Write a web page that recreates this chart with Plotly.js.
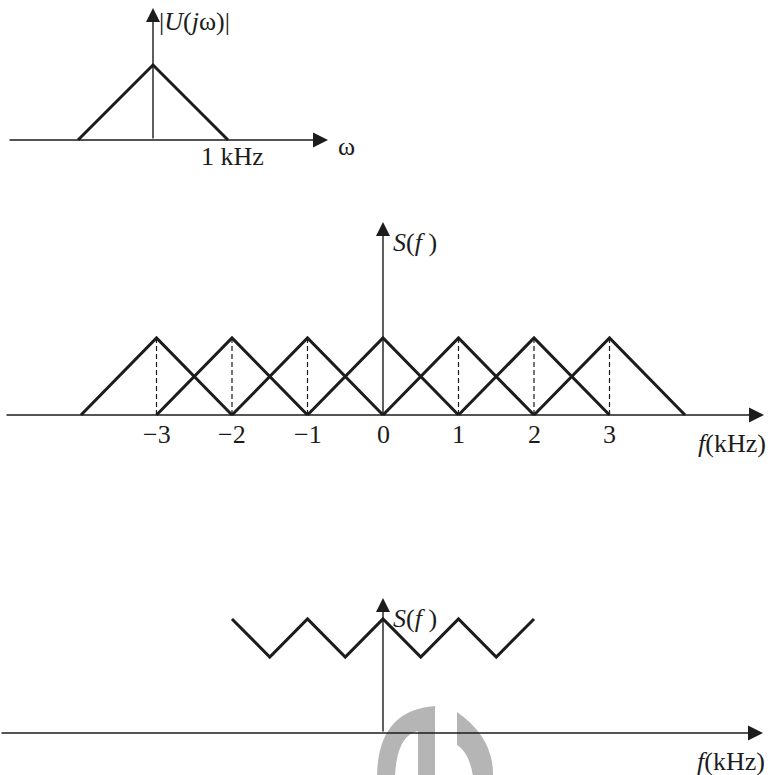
<!DOCTYPE html>
<html>
<head>
<meta charset="utf-8">
<script src="https://cdn.plot.ly/plotly-3.0.1.min.js"></script>
<style>html,body{margin:0;padding:0;background:#fff;}#chart{width:770px;height:775px;}</style>
</head>
<body>
<div id="chart"></div>
<script>
// ---- data ----
const topF = [-1, 0, 1];            // |U(jω)| triangle, kHz
const topU = [0, 1, 0];
const centers = [-3, -2, -1, 0, 1, 2, 3];   // sample spectrum replicas (kHz)
const tickLabels = ['\u22123', '\u22122', '\u22121', '0', '1', '2', '3'];
const triF = [-1, 0, 1];            // replica shape, offset from centre
const triS = [0, 1, 0];
const sumF = [-2, -1.5, -1, -0.5, 0, 0.5, 1, 1.5, 2];   // bottom panel
const sumS = [1.5, 1, 1.5, 1, 1.5, 1, 1.5, 1, 1.5];

// ---- style ----
const INK = '#1c1c1c';
const FONT = {family: 'Liberation Serif, DejaVu Serif, serif', size: 26, color: INK};
const W = 770, H = 775;

const traces = [];
traces.push({x: topF, y: topU, xaxis: 'x', yaxis: 'y', mode: 'lines',
  line: {color: INK, width: 3}, hoverinfo: 'skip'});
const mx = [], my = [];
centers.forEach(c => { triF.forEach((d, i) => { mx.push(c + d); my.push(triS[i]); }); mx.push(null); my.push(null); });
traces.push({x: mx, y: my, xaxis: 'x2', yaxis: 'y2', mode: 'lines',
  line: {color: INK, width: 3}, hoverinfo: 'skip'});
const dx = [], dy = [];
centers.filter(c => c !== 0).forEach(c => { dx.push(c, c, null); dy.push(0, triS[1], null); });
traces.push({x: dx, y: dy, xaxis: 'x2', yaxis: 'y2', mode: 'lines',
  line: {color: INK, width: 1.2, dash: '5px,3px'}, hoverinfo: 'skip'});
traces.push({x: sumF, y: sumS, xaxis: 'x3', yaxis: 'y3', mode: 'lines',
  line: {color: INK, width: 3}, hoverinfo: 'skip'});

function rangeX(x0, unit) { return [(0 - x0) / unit, (W - x0) / unit]; }
function rangeY(y0, unit) { return [(y0 - H) / unit, y0 / unit]; }
const P1 = {x0: 153, ux: 75, y0: 140, uy: 75};
const P2 = {x0: 383, ux: 75.5, y0: 415, uy: 77};
const P3 = {x0: 383, ux: 75.5, y0: 733, uy: 76};
function ax(r) { return {range: r, domain: [0, 1], visible: false, fixedrange: true}; }

function arrow(xr, yr, x, y, tx, ty, w) {
  return {xref: xr, yref: yr, axref: xr, ayref: yr, x: x, y: y, ax: tx, ay: ty,
    showarrow: true, arrowhead: 2, arrowsize: 2.0, arrowwidth: w || 1.5, arrowcolor: INK,
    standoff: 0, startstandoff: 0, text: ''};
}
function label(xr, yr, x, y, text, opts) {
  return Object.assign({xref: xr, yref: yr, x: x, y: y, text: text, showarrow: false,
    font: FONT, xanchor: 'center', yanchor: 'middle'}, opts || {});
}

const annotations = [];
annotations.push(arrow('x', 'y', (328 - P1.x0) / P1.ux, 0, (8 - P1.x0) / P1.ux, 0));
annotations.push(arrow('x', 'y', 0, (P1.y0 - 8) / P1.uy, 0, 0, 1.4));
annotations.push(label('x', 'y', 0, (P1.y0 - 8) / P1.uy, '|<i>U</i>(<i>j</i>ω)|', {xanchor: 'left', xshift: 4, yshift: -13}));
annotations.push(label('x', 'y', topF[2], 0, '1 kHz', {xshift: 4, yshift: -16}));
annotations.push(label('x', 'y', (328 - P1.x0) / P1.ux, 0, 'ω', {xanchor: 'left', xshift: 8, yshift: -6}));

annotations.push(arrow('x2', 'y2', (764 - P2.x0) / P2.ux, 0, (5 - P2.x0) / P2.ux, 0));
annotations.push(arrow('x2', 'y2', 0, (P2.y0 - 222) / P2.uy, 0, 0, 1.4));
annotations.push(label('x2', 'y2', 0, (P2.y0 - 222) / P2.uy, '<i>S</i>(<i>f</i> )', {xanchor: 'left', xshift: 8, yshift: -20}));
centers.forEach((c, i) => annotations.push(label('x2', 'y2', c, 0, tickLabels[i], {yshift: -19})));
annotations.push(label('x2', 'y2', (764 - P2.x0) / P2.ux, 0, '<i>f</i>(kHz)', {xanchor: 'right', xshift: 4, yshift: -28}));

annotations.push(arrow('x3', 'y3', (763 - P3.x0) / P3.ux, 0, (0 - P3.x0) / P3.ux, 0));
annotations.push(arrow('x3', 'y3', 0, (P3.y0 - 598) / P3.uy, 0, 0, 1.4));
annotations.push(label('x3', 'y3', 0, (P3.y0 - 598) / P3.uy, '<i>S</i>(<i>f</i> )', {xanchor: 'left', xshift: 8, yshift: -20}));
annotations.push(label('x3', 'y3', (763 - P3.x0) / P3.ux, 0, '<i>f</i>(kHz)', {xanchor: 'right', xshift: 4, yshift: -28}));

function pp(px, py) { return (px / W).toFixed(5) + ',' + (1 - py / H).toFixed(5); }
const wm1 = 'M' + pp(377, 776) + ' Q' + pp(378, 710) + ' ' + pp(435, 706) + ' L' + pp(435, 776) +
  ' L' + pp(418, 776) + ' L' + pp(418, 731) + ' Q' + pp(397, 735) + ' ' + pp(395, 776) + ' Z';
const wm2 = 'M' + pp(457, 712) + ' Q' + pp(494, 738) + ' ' + pp(493, 776) + ' L' + pp(473, 776) +
  ' Q' + pp(469, 752) + ' ' + pp(457, 745) + ' Z';
const shapes = [wm1, wm2].map(p => ({type: 'path', xref: 'paper', yref: 'paper', path: p,
  fillcolor: '#b5b5b5', line: {width: 0}, layer: 'below'}));

const layout = {
  width: W, height: H, margin: {l: 0, r: 0, t: 0, b: 0},
  paper_bgcolor: '#ffffff', plot_bgcolor: 'rgba(0,0,0,0)', showlegend: false,
  xaxis: ax(rangeX(P1.x0, P1.ux)), yaxis: Object.assign(ax(rangeY(P1.y0, P1.uy)), {anchor: 'x'}),
  xaxis2: Object.assign(ax(rangeX(P2.x0, P2.ux)), {anchor: 'y2'}), yaxis2: Object.assign(ax(rangeY(P2.y0, P2.uy)), {anchor: 'x2'}),
  xaxis3: Object.assign(ax(rangeX(P3.x0, P3.ux)), {anchor: 'y3'}), yaxis3: Object.assign(ax(rangeY(P3.y0, P3.uy)), {anchor: 'x3'}),
  annotations: annotations, shapes: shapes
};
Plotly.newPlot('chart', traces, layout, {staticPlot: true, displayModeBar: false});
</script>
</body>
</html>
